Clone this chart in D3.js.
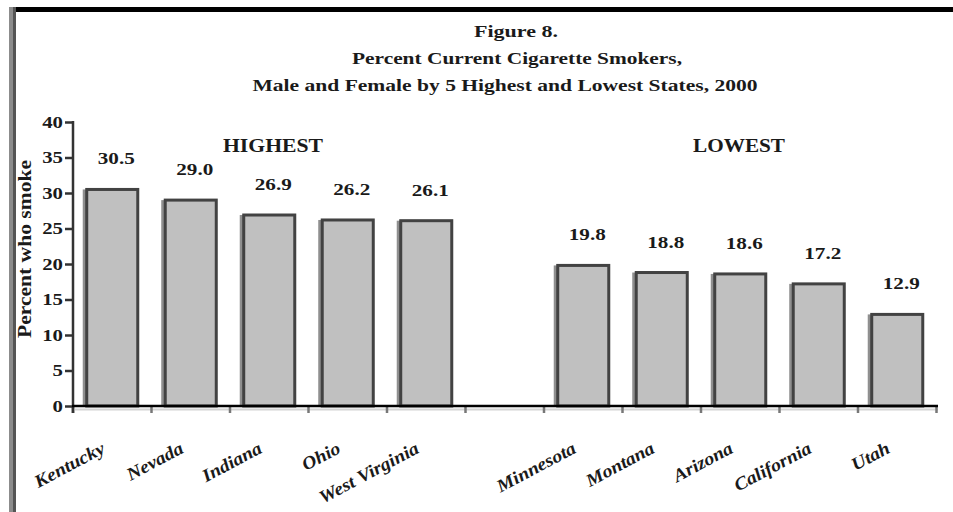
<!DOCTYPE html>
<html>
<head>
<meta charset="utf-8">
<script src="https://cdn.jsdelivr.net/npm/d3@7"></script>
<style>
  html, body { margin: 0; padding: 0; background: #fff; }
  svg { display: block; }
  text { font-family: "Liberation Serif", "Times New Roman", serif; font-weight: bold; fill: #1a1a1a; }
</style>
</head>
<body>
<svg id="chart" width="953" height="512"></svg>
<script>
// Percent current cigarette smokers, 2000
const highestStates = ["Kentucky", "Nevada", "Indiana", "Ohio", "West Virginia"];
const highestValues = [30.5, 29.0, 26.9, 26.2, 26.1];
const lowestStates = ["Minnesota", "Montana", "Arizona", "California", "Utah"];
const lowestValues = [19.8, 18.8, 18.6, 17.2, 12.9];
const yTicks = [0, 5, 10, 15, 20, 25, 30, 35, 40];
const titleLines = [
  "Figure 8.",
  "Percent Current Cigarette Smokers,",
  "Male and Female by 5 Highest and Lowest States, 2000"
];
const groupLabels = ["HIGHEST", "LOWEST"];
const yAxisTitle = "Percent who smoke";

const GAP = "\u2009";  // empty slot separating the two groups
const categories = [...highestStates, GAP, ...lowestStates];
const rows = highestStates.map((s, i) => ({ state: s, value: highestValues[i] }))
  .concat(lowestStates.map((s, i) => ({ state: s, value: lowestValues[i] })));

const svg = d3.select("#chart");

// frame: black rule on top, grey rule down the left side
svg.append("rect").attr("x", 13).attr("y", 7).attr("width", 940).attr("height", 5).attr("fill", "#000");
svg.append("rect").attr("x", 9).attr("y", 7).attr("width", 4).attr("height", 505).attr("fill", "#8c8c8c");
svg.append("rect").attr("x", 13).attr("y", 7).attr("width", 3).attr("height", 505).attr("fill", "#555");

// title
const titleSpecs = [
  { x: 516, y: 37, w: 84 },
  { x: 517, y: 64, w: 330 },
  { x: 505, y: 91, w: 505 }
];
titleLines.forEach((t, i) => {
  svg.append("text")
    .attr("x", titleSpecs[i].x).attr("y", titleSpecs[i].y)
    .attr("text-anchor", "middle")
    .attr("font-size", 17)
    .attr("textLength", titleSpecs[i].w)
    .attr("lengthAdjust", "spacingAndGlyphs")
    .text(t);
});

const x = d3.scaleBand().domain(categories).range([73, 936.5]).paddingInner(0.35).paddingOuter(0.175);
const y = d3.scaleLinear().domain([0, 40]).range([406, 122]);

// y axis
const yAxis = svg.append("g").attr("transform", "translate(73,0)")
  .call(d3.axisLeft(y).tickValues(yTicks).tickSize(8).tickPadding(2).tickFormat(d3.format("d")));
yAxis.select(".domain").attr("stroke", "#333").attr("stroke-width", 2.5)
  .attr("d", "M0," + (y(40) - 1) + "V" + (y(0) + 7));
yAxis.selectAll(".tick line").attr("stroke", "#333").attr("stroke-width", 2.5);
yAxis.selectAll(".tick text")
  .attr("font-size", 16).attr("fill", "#333")
  .attr("font-family", "Liberation Serif, serif").attr("font-weight", "bold")
  .each(function () { d3.select(this).attr("textLength", this.getComputedTextLength() * 1.3).attr("lengthAdjust", "spacingAndGlyphs"); });

// y axis title
svg.append("text")
  .attr("transform", "translate(31,249) rotate(-90)")
  .attr("text-anchor", "middle")
  .attr("font-size", 19)
  .attr("textLength", 178).attr("lengthAdjust", "spacingAndGlyphs")
  .text(yAxisTitle);

// bars
const bars = svg.append("g");
bars.selectAll("rect.shade").data(rows).join("rect")
  .attr("class", "shade")
  .attr("x", d => x(d.state) - 4)
  .attr("y", d => y(d.value))
  .attr("width", 5)
  .attr("height", d => y(0) - y(d.value))
  .attr("fill", "#8f8f8f");
bars.selectAll("rect.bar").data(rows).join("rect")
  .attr("class", "bar")
  .attr("x", d => x(d.state))
  .attr("y", d => y(d.value))
  .attr("width", x.bandwidth())
  .attr("height", d => y(0) - y(d.value))
  .attr("fill", "#c0c0c0")
  .attr("stroke", "#424242")
  .attr("stroke-width", 3);

// value labels
svg.append("g").selectAll("text").data(rows).join("text")
  .attr("x", d => x(d.state) + x.bandwidth() / 2 + 4)
  .attr("y", d => y(d.value) - 25)
  .attr("text-anchor", "middle")
  .attr("font-size", 16)
  .attr("textLength", 37).attr("lengthAdjust", "spacingAndGlyphs")
  .text(d => d3.format(".1f")(d.value));

// x axis
const xAxisY = y(0);
svg.append("line").attr("x1", 73).attr("x2", 938).attr("y1", xAxisY + 3.5).attr("y2", xAxisY + 3.5)
  .attr("stroke", "#d4d4d4").attr("stroke-width", 2);
const xTicks = d3.range(categories.length + 1).map(i => x.range()[0] + i * x.step());
svg.append("g").selectAll("line").data(xTicks).join("line")
  .attr("x1", d => d).attr("x2", d => d)
  .attr("y1", xAxisY).attr("y2", xAxisY + 7)
  .attr("stroke", (d, i) => i === 0 ? "#333" : "#777").attr("stroke-width", 2.5);
svg.append("line").attr("x1", 72).attr("x2", 938).attr("y1", xAxisY).attr("y2", xAxisY)
  .attr("stroke", "#000").attr("stroke-width", 2.5);

// category labels
svg.append("g").selectAll("text").data(rows).join("text")
  .attr("transform", d => `translate(${x(d.state) + x.bandwidth() / 2 - 6},452) rotate(-28)`)
  .attr("text-anchor", "end")
  .attr("font-size", 18)
  .attr("font-style", "italic")
  .text(d => d.state)
  .each(function () { d3.select(this).attr("textLength", this.getComputedTextLength() * 1.1).attr("lengthAdjust", "spacingAndGlyphs"); });

// group headings
const groupCenters = [273, 739];
const groupWidths = [100, 92];
groupLabels.forEach((g, i) => {
  svg.append("text")
    .attr("x", groupCenters[i]).attr("y", 152)
    .attr("text-anchor", "middle")
    .attr("font-size", 18)
    .attr("textLength", groupWidths[i]).attr("lengthAdjust", "spacingAndGlyphs")
    .text(g);
});
</script>
</body>
</html>
